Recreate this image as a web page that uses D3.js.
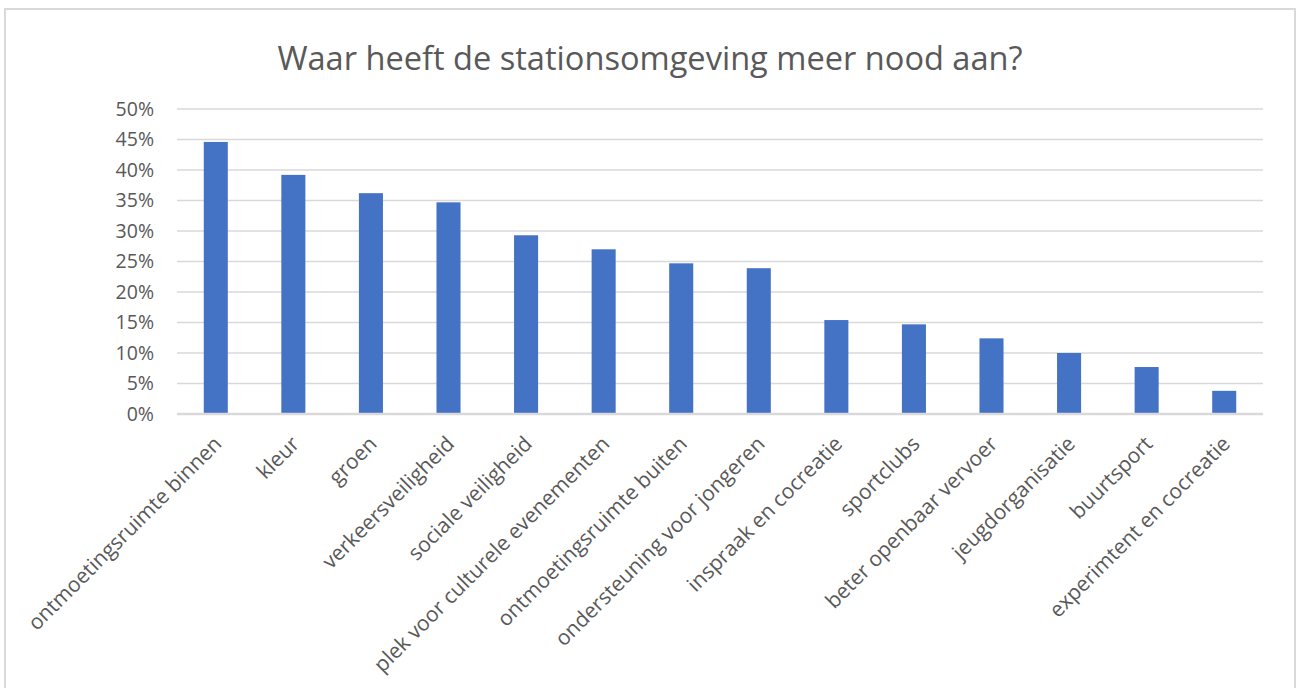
<!DOCTYPE html>
<html>
<head>
<meta charset="utf-8">
<script src="https://cdn.jsdelivr.net/npm/d3@7"></script>
<style>
  body { margin: 0; background: #fff; }
  svg { display: block; font-family: "Open Sans", sans-serif; }
</style>
</head>
<body>
<svg id="chart" width="1298" height="688"></svg>
<script>
// chart data
const categories = [
  'ontmoetingsruimte binnen', 'kleur', 'groen', 'verkeersveiligheid',
  'sociale veiligheid', 'plek voor culturele evenementen', 'ontmoetingsruimte buiten',
  'ondersteuning voor jongeren', 'inspraak en cocreatie', 'sportclubs',
  'beter openbaar vervoer', 'jeugdorganisatie', 'buurtsport', 'experimtent en cocreatie'
];
const values = [44.6, 39.2, 36.2, 34.7, 29.3, 27.0, 24.7, 23.9, 15.4, 14.7, 12.4, 10.0, 7.7, 3.8];
const yTicks = [0, 5, 10, 15, 20, 25, 30, 35, 40, 45, 50];
const title = 'Waar heeft de stationsomgeving meer nood aan?';

const svg = d3.select('#chart');
const plot = {left: 177, right: 1263, top: 109, bottom: 414};

// outer frame
svg.append('rect')
    .attr('x', 5).attr('y', 9)
    .attr('width', 1290).attr('height', 700)
    .attr('fill', '#fff')
    .attr('stroke', '#d9d9d9')
    .attr('stroke-width', 2);

svg.append('text')
    .attr('x', 650).attr('y', 70)
    .attr('text-anchor', 'middle')
    .attr('fill', '#595959')
    .style('font-size', '32.6px')
    .text(title);

let x = d3.scaleBand()
    .domain(categories)
    .range([plot.left, plot.right])
    .paddingInner(0.69)
    .paddingOuter(0.345);

let y = d3.scaleLinear()
    .domain([0, 50])
    .range([plot.bottom, plot.top]);

// gridlines
svg.append('g')
    .selectAll('line')
    .data(yTicks)
    .join('line')
    .attr('x1', plot.left).attr('x2', plot.right)
    .attr('y1', d => y(d)).attr('y2', d => y(d))
    .attr('stroke', '#d9d9d9')
    .attr('stroke-width', 1.5);

// y axis labels
let yAxis = svg.append('g')
    .attr('transform', 'translate(' + (plot.left - 10) + ',0)')
    .call(d3.axisLeft(y).tickValues(yTicks).tickFormat(d => d + '%').tickSize(0).tickPadding(13));
yAxis.select('.domain').remove();
yAxis.selectAll('text')
    .attr('fill', '#595959')
    .style('font-size', '19.5px')
    .style('font-family', '"Open Sans", sans-serif');

// bars
svg.append('g')
    .selectAll('rect')
    .data(values)
    .join('rect')
    .attr('x', (d, i) => x(categories[i]))
    .attr('width', x.bandwidth())
    .attr('y', d => y(d))
    .attr('height', d => y(0) - y(d))
    .attr('fill', '#4472c4');

// baseline
svg.append('line')
    .attr('x1', plot.left).attr('x2', plot.right)
    .attr('y1', y(0)).attr('y2', y(0))
    .attr('stroke', '#d9d9d9')
    .attr('stroke-width', 2.5);

// x labels rotated
svg.append('g')
    .selectAll('text')
    .data(categories)
    .join('text')
    .attr('transform', d => 'translate(' + (x(d) + x.bandwidth() / 2 + 2) + ',' + (y(0) + 26) + ') rotate(-45)')
    .attr('text-anchor', 'end')
    .attr('dy', '0.35em')
    .attr('fill', '#595959')
    .style('font-size', '21px')
    .text(d => d);
</script>
</body>
</html>
